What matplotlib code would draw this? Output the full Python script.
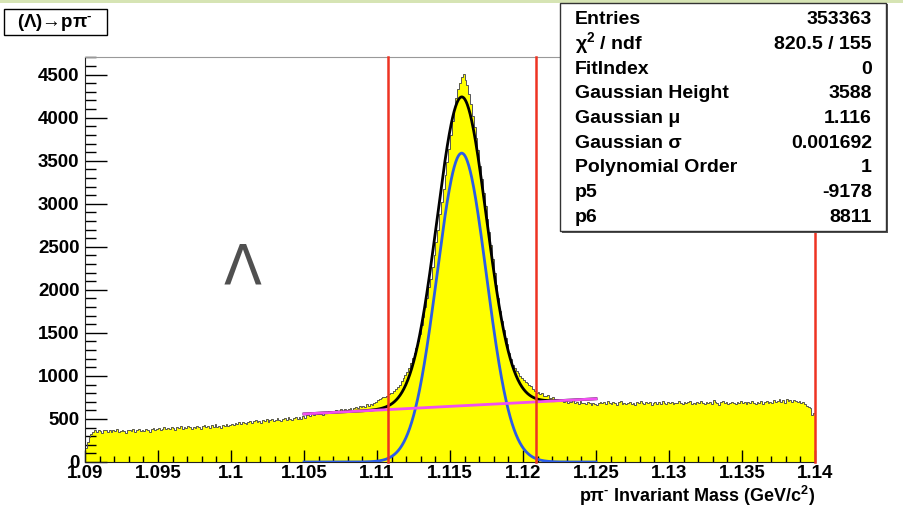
import numpy as np
import matplotlib
matplotlib.use("Agg")
import matplotlib.pyplot as plt
from matplotlib.patches import Rectangle
from matplotlib.ticker import MultipleLocator, FuncFormatter

plt.rcParams['font.family'] = ['Liberation Sans', 'DejaVu Sans']
plt.rcParams['mathtext.fontset'] = 'custom'
plt.rcParams['mathtext.rm'] = 'Liberation Sans:bold'
plt.rcParams['mathtext.it'] = 'Liberation Sans:bold'
plt.rcParams['mathtext.bf'] = 'Liberation Sans:bold'

# p pi- invariant mass histogram, 400 bins of 0.000125 GeV/c^2 from 1.09 to 1.14
x_lo, x_hi, n_bins = 1.09, 1.14, 400

seg0 = [165, 232, 290, 328, 352, 370, 348, 372, 361, 339, 366, 375, 352, 368, 343, 371, 359, 380, 349, 362,
        374, 356, 341, 368, 377, 361, 383, 352, 370, 389, 364, 372, 358, 385, 376, 351, 379, 392, 368, 381]
seg1 = [394, 372, 388, 401, 379, 396, 384, 410, 392, 371, 403, 398, 415, 388, 406, 394, 419, 402, 384, 411,
        397, 423, 408, 389, 416, 429, 404, 418, 395, 426, 412, 436, 409, 421, 399, 431, 417, 440, 414, 428]
seg2 = [446, 425, 452, 438, 461, 447, 470, 455, 442, 468, 479, 458, 471, 486, 463, 477, 452, 489, 474, 495,
        468, 483, 501, 476, 492, 507, 485, 471, 498, 512, 490, 519, 503, 486, 514, 527, 505, 521, 498, 533]
seg3 = [515, 541, 552, 534, 560, 547, 571, 556, 579, 563, 549, 584, 572, 591, 568, 597, 583, 605, 589, 576,
        612, 598, 621, 604, 615, 632, 609, 626, 641, 622, 648, 637, 655, 643, 668, 652, 675, 661, 688, 702]
seg4 = [715, 728, 745, 760, 752, 771, 790, 806, 798, 825, 845, 870, 900, 937, 975, 1010, 1050, 1095, 1150, 1205,
        1270, 1330, 1410, 1490, 1590, 1690, 1800, 1910, 2030, 2130, 2260, 2410, 2560, 2700, 2880, 3020, 3170, 3330, 3490, 3640]
seg5 = [3800, 3960, 4120, 4230, 4330, 4400, 4470, 4510, 4440, 4376, 4270, 4163, 4020, 3890, 3760, 3620, 3440, 3290, 3120, 2970,
        2822, 2670, 2520, 2360, 2200, 2060, 1900, 1760, 1640, 1539, 1440, 1370, 1270, 1200, 1125, 1090, 1060, 1035, 1000, 975]
seg6 = [950, 932, 918, 896, 884, 851, 828, 806, 812, 788, 803, 772, 764, 781, 748, 739, 752, 727, 735, 716,
        704, 722, 698, 711, 689, 702, 694, 715, 686, 699, 676, 708, 691, 682, 668, 697, 684, 659, 688, 672]
seg7 = [664, 689, 702, 681, 695, 672, 710, 688, 676, 699, 683, 667, 694, 705, 679, 691, 668, 686, 701, 675,
        689, 663, 694, 682, 709, 686, 671, 698, 680, 692, 658, 685, 700, 677, 693, 669, 704, 688, 679, 696]
seg8 = [684, 701, 673, 690, 682, 712, 688, 669, 697, 680, 694, 706, 678, 689, 671, 699, 685, 710, 683, 676,
        695, 688, 701, 679, 715, 692, 684, 667, 698, 705, 681, 693, 674, 689, 700, 686, 671, 696, 683, 707]
seg9 = [688, 701, 676, 694, 683, 709, 690, 672, 698, 686, 703, 679, 695, 712, 688, 700, 684, 719, 697, 706,
        728, 701, 715, 690, 731, 709, 718, 696, 724, 703, 692, 708, 681, 695, 668, 652, 641, 622, 548, 575]
counts = np.array(seg0 + seg1 + seg2 + seg3 + seg4 + seg5 + seg6 + seg7 + seg8 + seg9, dtype=float)
edges = np.linspace(x_lo, x_hi, n_bins + 1)

# fit results: gaussian + pol1 over [1.105, 1.125]
entries = 353363
chi2, ndf = 820.5, 155
fit_index = 0
g_height, g_mu, g_sigma = 3588, 1.1158, 0.001692
poly_order = 1
p5, p6 = -9178, 8811
fit_lo, fit_hi = 1.105, 1.125

W, H = 904, 509
fig = plt.figure(figsize=(W / 100, H / 100), dpi=100)

def fx(px):
    return px / W

def fy(py):
    return 1 - py / H

ax = fig.add_axes([fx(85), fy(462), (815 - 85) / W, (462 - 57) / H])

ax.stairs(counts, edges, fill=True, color='#ffff00', zorder=1)
ax.stairs(counts, edges, color='#555555', lw=0.7, zorder=2)

xf = np.linspace(fit_lo, fit_hi, 600)
gaus = g_height * np.exp(-0.5 * ((xf - g_mu) / g_sigma) ** 2)
bkg = p5 + p6 * xf
ax.plot(xf, gaus + bkg, color='black', lw=2, zorder=3)
ax.plot(xf, gaus, color='#2b5ce6', lw=2, zorder=4)
ax.plot(xf, bkg, color='#f050f0', lw=2, zorder=5)

# signal window at mu +- 3 sigma, and end of range
for xv in [g_mu - 3 * g_sigma, g_mu + 3 * g_sigma, x_hi]:
    ax.axvline(xv, color='#ee3322', lw=1.8, zorder=6, clip_on=False)

ax.set_xlim(x_lo, x_hi)
ax.set_ylim(0, 4705)
ax.xaxis.set_major_locator(MultipleLocator(0.005))
ax.xaxis.set_minor_locator(MultipleLocator(0.001))
ax.yaxis.set_major_locator(MultipleLocator(500))
ax.yaxis.set_minor_locator(MultipleLocator(100))
ax.xaxis.set_major_formatter(FuncFormatter(lambda v, p: '%g' % round(v, 4)))
ax.tick_params(axis='x', which='major', direction='in', length=8.6, width=1, pad=2,
               labelsize=13.5, top=False)
ax.tick_params(axis='x', which='minor', direction='in', length=4.3, width=1, top=False)
ax.tick_params(axis='y', which='major', direction='in', length=15.8, width=1, pad=4,
               labelsize=13.5, right=False)
ax.tick_params(axis='y', which='minor', direction='in', length=8, width=1, right=False)
for lab in ax.get_xticklabels() + ax.get_yticklabels():
    lab.set_fontweight('bold')
for s in ['left', 'bottom']:
    ax.spines[s].set_color('#222222')
ax.spines['top'].set_color('#999999')
ax.spines['right'].set_visible(False)

fig.text(fx(815), fy(502), 'p\u03c0$^{\u2010}$ Invariant Mass (GeV/c$^{2}$)', ha='right', va='baseline',
         fontsize=13, fontweight='bold')

# big particle label
fig.text(fx(243), fy(268), '\u039b', ha='center', va='center', fontsize=40,
         color='#505050', family='DejaVu Sans')

# title box
fig.add_artist(Rectangle((fx(4), fy(35)), fx(103), 26 / H, transform=fig.transFigure,
                         facecolor='white', edgecolor='black', lw=1, zorder=5))
fig.text(fx(55), fy(27), '(\u039b)\u2192p\u03c0$^{\u2010}$', ha='center', va='baseline',
         fontsize=13.5, fontweight='bold', zorder=6)

# stats box with shadow
fig.add_artist(Rectangle((fx(562), fy(233)), fx(326), 229 / H, transform=fig.transFigure,
                         facecolor='#555555', edgecolor='none', zorder=5))
fig.add_artist(Rectangle((fx(560), fy(231)), fx(326), 228 / H, transform=fig.transFigure,
                         facecolor='white', edgecolor='#333333', lw=1, zorder=6))
rows = [
    ('Entries', '%d' % entries),
    ('\u03c7$^{2}$ / ndf', '%.1f / %d' % (chi2, ndf)),
    ('FitIndex', '%d' % fit_index),
    ('Gaussian Height', '%d' % g_height),
    ('Gaussian \u03bc', '%.4g' % g_mu),
    ('Gaussian \u03c3', '%.6f' % g_sigma),
    ('Polynomial Order', '%d' % poly_order),
    ('p5', '%d' % p5),
    ('p6', '%d' % p6),
]
for i, (name, val) in enumerate(rows):
    yy = fy(24 + i * 24.75)
    fig.text(fx(575), yy, name, ha='left', va='baseline', fontsize=14, fontweight='bold', zorder=7)
    fig.text(fx(872), yy, val, ha='right', va='baseline', fontsize=14, fontweight='bold', zorder=7)

# thin banner strip along the top edge
fig.add_artist(Rectangle((0, fy(3)), 1, 3 / H, transform=fig.transFigure,
                         facecolor='#d6e4b4', edgecolor='none', zorder=4))

fig.savefig('out.png', dpi=100)
